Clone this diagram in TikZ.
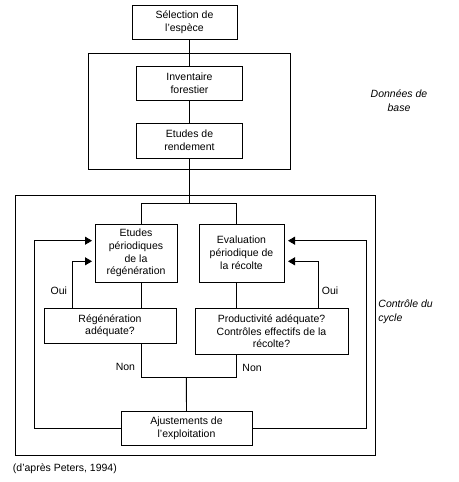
\documentclass[tikz,border=0pt]{standalone}
\usepackage{fontspec}
\setmainfont{Liberation Sans}
\usetikzlibrary{positioning,arrows.meta,calc}

\begin{document}
\begin{tikzpicture}[
    x=1pt, y=-1pt,
    font=\fontsize{10.5}{12.8}\selectfont,
    line width=0.9pt,
    box/.style={draw, rectangle, inner sep=0pt, align=center},
    lbl/.style={inner sep=0pt},
    note/.style={inner sep=0pt, font=\fontsize{10.5}{14.5}\selectfont\itshape},
    arr/.style={-{Triangle[length=7pt, width=8pt]}},
  ]
  \useasboundingbox (0,0) rectangle (458,482);

  % frames
  \draw (88,53.5) rectangle (290.5,169);
  \draw (15.5,195.5) rectangle (375.5,455.7);

  % boxes
  \node[box, minimum width=105pt, minimum height=34.5pt] (sel) at (184.5,22.3) {Sélection de\\l'espèce};
  \node[box, minimum width=106pt, minimum height=34pt] (inv) at (189.5,83.3) {Inventaire\\forestier};
  \node[box, minimum width=106pt, minimum height=35pt] (rend) at (189.5,140.5) {Etudes de\\rendement};
  \node[box, minimum width=82pt, minimum height=58pt] (etper) at (136,253) {Etudes\\périodiques\\de la\\régénération};
  \node[box, minimum width=85pt, minimum height=58pt] (eval) at (241.5,253) {Evaluation\\périodique de\\la récolte};
  \node[box, minimum width=132pt, minimum height=35pt] (regen) at (110,325.8) {Régénération\\adéquate?};
  \node[box, minimum width=153pt, minimum height=46pt] (prod) at (271.5,331.3) {Productivité adéquate?\\Contrôles effectifs de la\\récolte?};
  \node[box, minimum width=131pt, minimum height=33.5pt] (ajust) at (186.5,428.3) {Ajustements de\\l'exploitation};

  % side notes
  \node[note, align=center] (base) at (399,100.5) {Données de\\base};
  \node[note, align=left, anchor=west] (cycle) at (378,312) {Contrôle du\\cycle};
  \node[lbl, anchor=west] (src) at (12.5,469) {(d'après Peters, 1994)};

  % branch labels
  \node[lbl, anchor=east] (ouiL) at (67.5,291) {Oui};
  \node[lbl, anchor=west] (ouiR) at (321.5,291) {Oui};
  \node[lbl, anchor=east] (nonL) at (135.5,367) {Non};
  \node[lbl, anchor=west] (nonR) at (242,367.5) {Non};

  % helper points
  \coordinate (split) at (189.5,203);
  \coordinate (sl) at (141.7,203);
  \coordinate (sr) at (236.5,203);
  \coordinate (join) at (186.3,377);
  \coordinate (lloop) at (34.7,240.7);
  \coordinate (rloop) at (366,240.7);
  \coordinate (ltip) at (92,240.7);
  \coordinate (rtip) at (288,240.7);
  \coordinate (louitip) at (92,261.3);
  \coordinate (rouitip) at (288,261.3);

  % main chain
  \draw (inv.north |- sel.south) -- (inv.north);
  \draw (inv) -- (rend);
  \draw (rend.south) -- (split);
  \draw (sl) -- (sr);
  \draw (sl) -- (sl |- etper.north);
  \draw (sr) -- (sr |- eval.north);
  \draw (sl |- etper.south) -- (sl |- regen.north);
  \draw (sr |- eval.south) -- (sr |- prod.north);
  \draw (sl |- regen.south) -- (sl |- join) -- (sr |- join) -- (sr |- prod.south);
  \draw (join) -- (ajust.north);

  % feedback loops
  \draw[arr] (ajust.west) -| (lloop) -- (ltip);
  \draw[arr] (ajust.east) -| (rloop) -- (rtip);
  \draw[arr] (regen.north -| 72.3,0) |- (louitip);
  \draw[arr] (prod.north -| 318.3,0) |- (rouitip);
\end{tikzpicture}
\end{document}
